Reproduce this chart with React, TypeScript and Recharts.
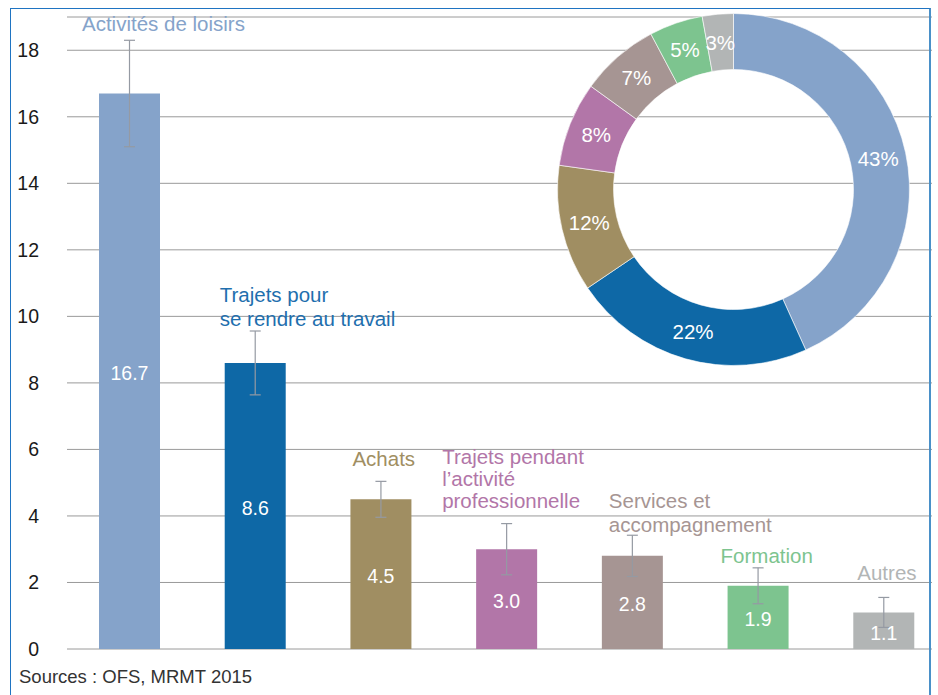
import React from "react";
import {
  BarChart,
  Bar,
  XAxis,
  YAxis,
  CartesianGrid,
  ErrorBar,
  LabelList,
  Cell,
  PieChart,
  Pie,
} from "recharts";

// values
const categories = [
  "Activités de loisirs",
  "Trajets pour se rendre au travail",
  "Achats",
  "Trajets pendant l’activité professionnelle",
  "Services et accompagnement",
  "Formation",
  "Autres",
];
const values = [16.7, 8.6, 4.5, 3.0, 2.8, 1.9, 1.1];
const errors = [1.6, 0.96, 0.54, 0.77, 0.62, 0.54, 0.45];
const labelLines = [
  ["Activités de loisirs"],
  ["Trajets pour", "se rendre au travail"],
  ["Achats"],
  ["Trajets pendant", "l’activité", "professionnelle"],
  ["Services et", "accompagnement"],
  ["Formation"],
  ["Autres"],
];
const yTicks = [0, 2, 4, 6, 8, 10, 12, 14, 16, 18];

const colors = ["#85a3ca", "#0e68a6", "#a08e62", "#b276a8", "#a69593", "#7dc48f", "#b2b5b5"];
const labelColors = ["#85a3ca", "#1f6fae", "#a08e62", "#b276a8", "#a69593", "#7dc48f", "#b2b5b5"];
// where the category labels sit: x offset from bar left, y of first line centre, line step
const labelPos = [
  { dx: -17, y: 24, step: 24 },
  { dx: -5, y: 295, step: 24 },
  { dx: 2, y: 459, step: 22 },
  { dx: -34, y: 457, step: 21.7 },
  { dx: 7, y: 501, step: 23.6 },
  { dx: -7, y: 556, step: 22 },
  { dx: 4, y: 573, step: 22 },
];

const FONT = "'Liberation Sans', Arial, Helvetica, sans-serif";

const data = categories.map((name, i) => ({
  name,
  value: values[i],
  err: errors[i],
}));

const total = values.reduce((a, b) => a + b, 0);

const CategoryLabel = (props: any) => {
  const { x, index } = props;
  const pos = labelPos[index];
  return (
    <g>
      {labelLines[index].map((line, j) => (
        <text
          key={j}
          x={x + pos.dx}
          y={pos.y + j * pos.step}
          dy="0.35em"
          fill={labelColors[index]}
          fontSize={20.5}
          fontFamily={FONT}
        >
          {line}
        </text>
      ))}
    </g>
  );
};

const RADIAN = Math.PI / 180;
const pieLabel = (p: any) => {
  const { cx, cy, midAngle, innerRadius, outerRadius, value } = p;
  const r = (innerRadius + outerRadius) / 2;
  const x = cx + r * Math.cos(-midAngle * RADIAN);
  const y = cy + r * Math.sin(-midAngle * RADIAN);
  return (
    <text
      x={x}
      y={y}
      fill="#fff"
      textAnchor="middle"
      dominantBaseline="central"
      fontSize={20.5}
      fontFamily={FONT}
    >
      {Math.round((value / total) * 100) + "%"}
    </text>
  );
};

export default function App() {
  return (
    <div
      style={{
        position: "absolute",
        left: 0,
        top: 0,
        width: 938,
        height: 695,
        overflow: "hidden",
        background: "#fff",
        fontFamily: FONT,
      }}
    >
      <div style={{ position: "absolute", left: 0, top: 0, width: 932, height: 695, overflow: "hidden" }}>
        <BarChart
          width={947}
          height={695}
          data={data}
          margin={{ top: 17, right: 0, left: 0, bottom: 46 }}
        >
          <CartesianGrid vertical={false} stroke="#9a9a9a" strokeWidth={1} />
          <XAxis dataKey="name" hide />
          <YAxis
            width={67}
            domain={[0, 19]}
            ticks={yTicks}
            axisLine={false}
            tickLine={false}
            tickSize={0}
            tickMargin={28}
            tick={{ fill: "#1a1a1a", fontSize: 19.5, fontFamily: FONT }}
          />
          <Bar dataKey="value" barSize={61} isAnimationActive={false}>
            {data.map((d, i) => (
              <Cell key={d.name} fill={colors[i]} />
            ))}
            <ErrorBar dataKey="err" width={5.5} stroke="#959aa3" strokeWidth={1.2} direction="y" />
            <LabelList
              dataKey="value"
              position="center"
              fill="#fff"
              fontSize={19.5}
              fontFamily={FONT}
              dy={2}
              formatter={(v: any) => Number(v).toFixed(1)}
            />
            <LabelList dataKey="name" content={CategoryLabel} />
          </Bar>
        </BarChart>
      </div>

      <div style={{ position: "absolute", left: 553, top: 10, width: 362, height: 360 }}>
        <PieChart width={362} height={360} margin={{ top: 0, right: 0, left: 0, bottom: 0 }}>
          <Pie
            data={data}
            dataKey="value"
            nameKey="name"
            cx={180.5}
            cy={179.5}
            innerRadius={120}
            outerRadius={176}
            startAngle={90}
            endAngle={-270}
            stroke="#ffffff"
            strokeWidth={0.6}
            label={pieLabel}
            labelLine={false}
            isAnimationActive={false}
          >
            {data.map((d, i) => (
              <Cell key={d.name} fill={colors[i]} />
            ))}
          </Pie>
        </PieChart>
      </div>

      <div
        style={{
          position: "absolute",
          left: 19,
          top: 666,
          fontSize: 18.5,
          color: "#333",
          whiteSpace: "nowrap",
        }}
      >
        Sources : OFS, MRMT 2015
      </div>

      <div
        style={{
          position: "absolute",
          left: 10,
          top: 8,
          width: 921,
          height: 720,
          borderTop: "1.5px solid #1f74c2",
          borderLeft: "1.5px solid #1f74c2",
          borderRight: "2px solid #4a90c8",
          boxSizing: "border-box",
          pointerEvents: "none",
        }}
      />
    </div>
  );
}
